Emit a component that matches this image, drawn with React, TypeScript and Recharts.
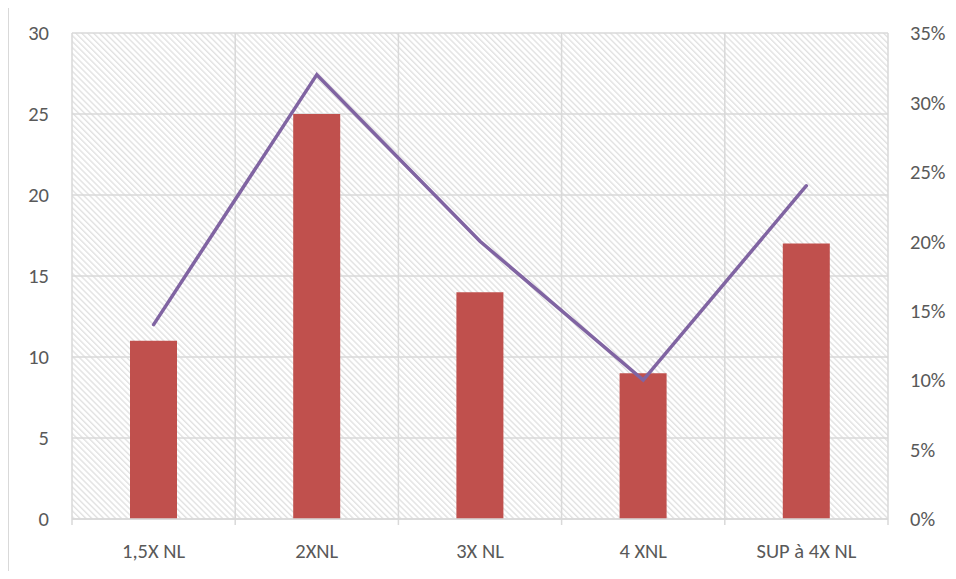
import React from "react";
import { ComposedChart, Bar, Line, XAxis, YAxis, CartesianGrid } from "recharts";

const categories = ["1,5X NL", "2XNL", "3X NL", "4 XNL", "SUP à 4X NL"];
const counts = [11, 25, 14, 9, 17];
const shares = [0.14, 0.32, 0.2, 0.1, 0.24];
const leftTicks = [0, 5, 10, 15, 20, 25, 30];
const rightTicks = [0, 0.05, 0.1, 0.15, 0.2, 0.25, 0.3, 0.35];

const data = categories.map((c, i) => ({ name: c, count: counts[i], share: shares[i] }));

const FONT = "Carlito, Calibri, Lato, sans-serif";
const TXT = "#595959";
const GRID = "#d9d9d9";
const FS = 20.5;

const XTick = (props: any) => {
  const { x, y, payload, index } = props;
  const half = payload && typeof payload.offset === "number" && payload.offset > 0 ? payload.offset : 81.6;
  const axisY = y - 24;
  return (
    <g>
      <line x1={x - half} x2={x - half} y1={axisY} y2={axisY + 6} stroke={GRID} strokeWidth={1.5} />
      {index === categories.length - 1 && (
        <line x1={x + half} x2={x + half} y1={axisY} y2={axisY + 6} stroke={GRID} strokeWidth={1.5} />
      )}
      <text x={x} y={y} dy="0.71em" textAnchor="middle" fill={TXT} fontSize={FS} fontFamily={FONT}>
        {payload.value}
      </text>
    </g>
  );
};

export default function App() {
  return (
    <div style={{ position: "relative", width: 940, height: 563 }}>
      <svg width={0} height={0} style={{ position: "absolute" }}>
        <defs>
          <pattern id="hatch" patternUnits="userSpaceOnUse" width={4.2} height={4.2} patternTransform="rotate(-45)">
            <rect x={0} y={0} width={4.2} height={4.2} fill="#ffffff" />
            <rect x={0} y={0} width={1.4} height={4.2} fill="#e2e2e2" />
          </pattern>
        </defs>
      </svg>
      <div
        style={{
          position: "absolute",
          left: -1,
          top: -4,
          right: -8,
          bottom: -8,
          borderTop: `2px solid ${GRID}`,
          borderLeft: `2px solid ${GRID}`,
          pointerEvents: "none",
          boxSizing: "border-box",
        }}
      />
      <ComposedChart
        width={948}
        height={563}
        data={data}
        margin={{ top: 25, left: 4, right: 0, bottom: 12 }}
        barCategoryGap={0}
      >
        <CartesianGrid
          fill="url(#hatch)"
          stroke={GRID}
          strokeWidth={1.5}
          verticalCoordinatesGenerator={(p: any) => {
            const off = p.offset;
            return [0, 1, 2, 3, 4, 5].map((i) => off.left + (i * off.width) / 5);
          }}
        />
        <XAxis
          dataKey="name"
          height={40}
          axisLine={{ stroke: GRID, strokeWidth: 1.5 }}
          tickLine={false}
          tickSize={0}
          tickMargin={24}
          interval={0}
          tick={<XTick />}
        />
        <YAxis
          yAxisId={0}
          width={60}
          domain={[0, 30]}
          ticks={leftTicks}
          axisLine={false}
          tickLine={false}
          tickSize={0}
          tickMargin={23}
          tick={{ fill: TXT, fontSize: FS, fontFamily: FONT }}
        />
        <YAxis
          yAxisId="right"
          orientation="right"
          width={68}
          domain={[0, 0.35]}
          ticks={rightTicks}
          axisLine={false}
          tickLine={false}
          tickSize={0}
          tickMargin={22}
          tickFormatter={(v: number) => `${Math.round(v * 100)}%`}
          tick={{ fill: TXT, fontSize: FS, fontFamily: FONT, textAnchor: "start" }}
        />
        <Bar yAxisId={0} dataKey="count" fill="#c0504d" barSize={47} isAnimationActive={false} />
        <Line
          yAxisId="right"
          dataKey="share"
          type="linear"
          stroke="#8064a2"
          strokeWidth={3.5}
          strokeLinecap="round"
          dot={false}
          activeDot={false}
          isAnimationActive={false}
        />
      </ComposedChart>
    </div>
  );
}
